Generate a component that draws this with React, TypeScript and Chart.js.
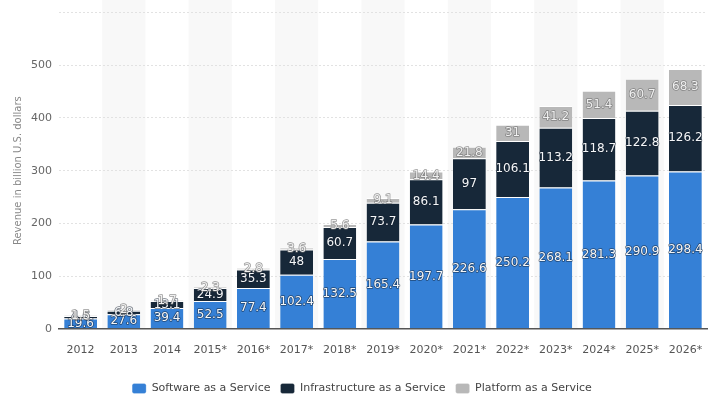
import React, { useEffect, useRef } from "react";
import { Chart, registerables } from "chart.js";

Chart.register(...registerables);

const years = ["2012", "2013", "2014", "2015*", "2016*", "2017*", "2018*", "2019*", "2020*", "2021*", "2022*", "2023*", "2024*", "2025*", "2026*"];
const saas = [19.6, 27.6, 39.4, 52.5, 77.4, 102.4, 132.5, 165.4, 197.7, 226.6, 250.2, 268.1, 281.3, 290.9, 298.4];
const iaas = [4.6, 6.8, 13.1, 24.9, 35.3, 48, 60.7, 73.7, 86.1, 97, 106.1, 113.2, 118.7, 122.8, 126.2];
const paas = [1.5, 2.0, 1.7, 2.3, 2.8, 3.6, 5.6, 9.1, 14.4, 21.8, 31, 41.2, 51.4, 60.7, 68.3];
const seriesNames = ["Software as a Service", "Infrastructure as a Service", "Platform as a Service"];
const yTicks = [0, 100, 200, 300, 400, 500];

const FONT = "'DejaVu Sans', sans-serif";

const bandPlugin = {
  id: "bands",
  beforeDraw(chart: any) {
    const { ctx, chartArea, scales } = chart;
    const x = scales.x;
    const n = chart.data.labels.length;
    const w = (chartArea.right - chartArea.left) / n;
    ctx.save();
    ctx.fillStyle = "#f8f8f8";
    for (let i = 1; i < n; i += 2) {
      const cx = x.getPixelForValue(i);
      ctx.fillRect(cx - w / 2, 0, w, chartArea.bottom);
    }
    ctx.restore();
  },
};

const legendShift = {
  id: "legendShift",
  afterLayout(chart: any) {
    const lg = chart.legend;
    if (lg) {
      lg.top += 9;
      lg.bottom += 9;
      lg.left += 8;
      lg.right += 8;
    }
  },
};

const labelPlugin = {
  id: "segLabels",
  afterDatasetsDraw(chart: any) {
    const { ctx } = chart;
    ctx.save();
    ctx.font = `12px ${FONT}`;
    ctx.textAlign = "center";
    ctx.textBaseline = "middle";
    chart.data.datasets.forEach((ds: any, di: number) => {
      const meta = chart.getDatasetMeta(di);
      meta.data.forEach((bar: any, i: number) => {
        const v = ds.data[i];
        const cy = (bar.y + bar.base) / 2;
        ctx.lineWidth = 1.5;
        ctx.strokeStyle = di === 2 ? "rgba(110,110,110,0.7)" : "rgba(20,30,45,0.6)";
        ctx.lineJoin = "round";
        ctx.strokeText(String(v), bar.x, cy);
        ctx.fillStyle = di === 2 ? "#f0f0f0" : "#f4f6f8";
        ctx.fillText(String(v), bar.x, cy);
      });
    });
    ctx.restore();
  },
};

export default function App() {
  const ref = useRef<HTMLCanvasElement | null>(null);
  useEffect(() => {
    document.body.style.margin = "0";
    const colors = ["#3580d6", "#172839", "#b8b8b8"];
    const chart = new Chart(ref.current!, {
      type: "bar",
      data: {
        labels: years,
        datasets: [saas, iaas, paas].map((d, i) => ({
          label: seriesNames[i],
          data: d,
          backgroundColor: colors[i],
          borderColor: "#ffffff",
          borderWidth: { top: 1, bottom: 0, left: 0, right: 0 },
          borderSkipped: false,
          barPercentage: 0.76,
          categoryPercentage: 1,
        })),
      },
      options: {
        responsive: false,
        animation: false,
        layout: { padding: { left: 1, right: 5, top: 5, bottom: 4 } },
        plugins: {
          legend: {
            position: "bottom",
            labels: {
              boxWidth: 14,
              boxHeight: 10,
              useBorderRadius: true,
              borderRadius: 2,
              padding: 10,
              color: "#444",
              font: { family: FONT, size: 11 },
            },
          },
          tooltip: { enabled: false },
        },
        scales: {
          x: {
            stacked: true,
            grid: { display: false },
            border: { display: true, color: "#555", width: 1.5 },
            ticks: { color: "#555", font: { family: FONT, size: 11 }, padding: 7, maxRotation: 0 },
          },
          y: {
            stacked: true,
            min: 0,
            max: 600,
            afterBuildTicks(axis: any) {
              axis.ticks = [...yTicks, 600].map((v) => ({ value: v }));
            },
            grid: { color: "#e2e2e2", drawTicks: false },
            border: { display: false, dash: [2, 2] },
            ticks: {
              color: "#666",
              font: { family: FONT, size: 11, lineHeight: 1 },
              padding: 7,
              callback: (v: any) => (yTicks.includes(Number(v)) ? String(v) : ""),
            },
            title: {
              display: true,
              text: "Revenue in billion U.S. dollars",
              color: "#888",
              font: { family: FONT, size: 10 },
              padding: { top: 11, bottom: 0 },
            },
          },
        },
      },
      plugins: [bandPlugin, legendShift, labelPlugin],
    });
    return () => chart.destroy();
  }, []);
  return <canvas ref={ref} width={712} height={399} style={{ display: "block" }} />;
}
